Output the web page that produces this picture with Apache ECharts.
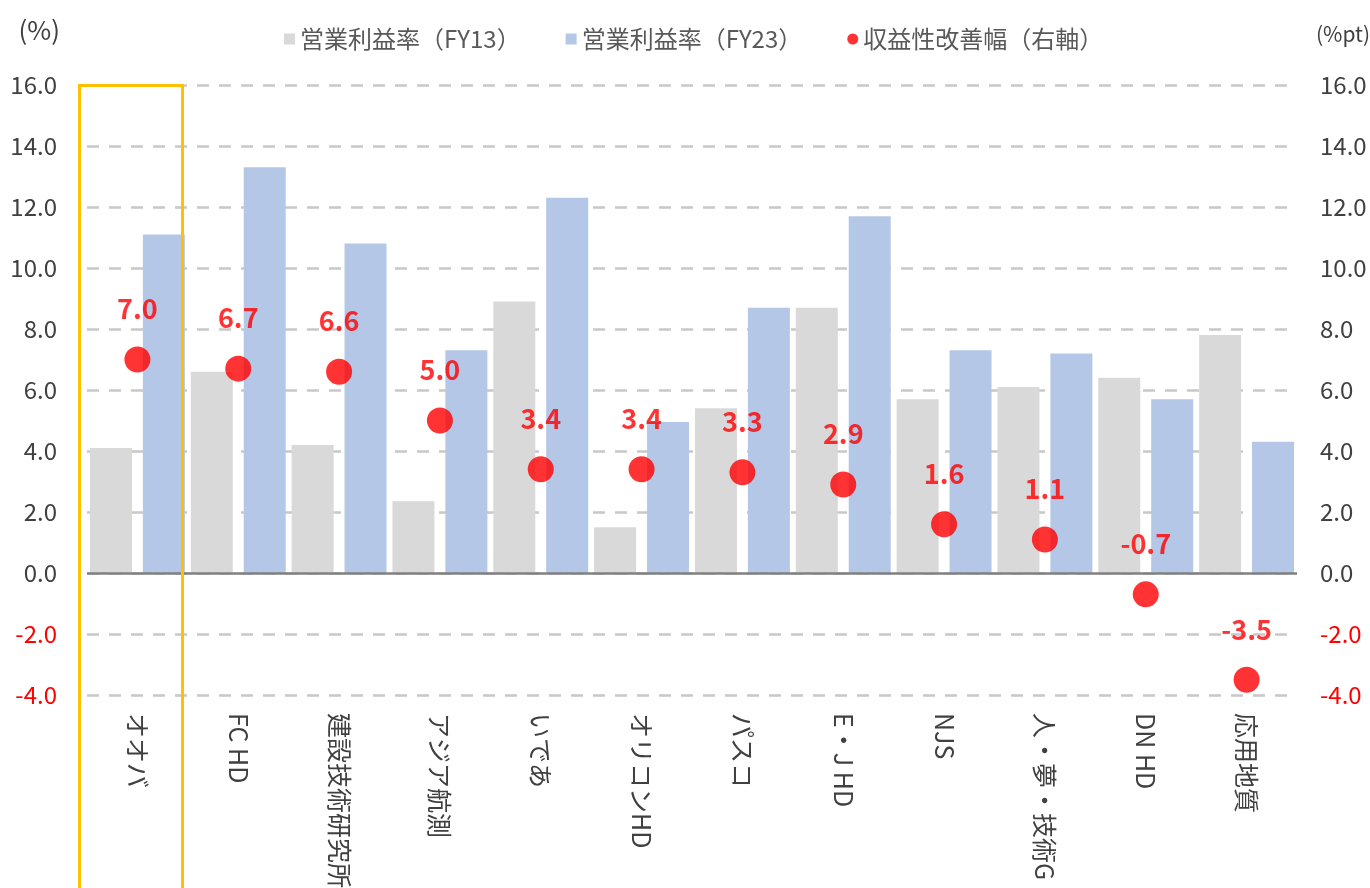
<!DOCTYPE html>
<html>
<head>
<meta charset="utf-8">
<script src="https://cdn.jsdelivr.net/npm/echarts@6/dist/echarts.min.js"></script>
<style>
  html, body { margin: 0; padding: 0; background: #fff; }
  #main { width: 1370px; height: 888px; }
</style>
</head>
<body>
<div id="main"></div>
<script>
// 企業名
var categories = ['オオバ', 'FC HD', '建設技術研究所', 'アジア航測', 'いであ', 'オリコンHD', 'パスコ', 'E・J HD', 'NJS', '人・夢・技術G', 'DN HD', '応用地質'];
// 営業利益率 FY13 / FY23 (%)
var fy13 = [4.1, 6.6, 4.2, 2.35, 8.9, 1.5, 5.4, 8.7, 5.7, 6.1, 6.4, 7.8];
var fy23 = [11.1, 13.3, 10.8, 7.3, 12.3, 4.95, 8.7, 11.7, 7.3, 7.2, 5.7, 4.3];
// 収益性改善幅 (%pt)
var improve = [7.0, 6.7, 6.6, 5.0, 3.4, 3.4, 3.3, 2.9, 1.6, 1.1, -0.7, -3.5];

var font = '"Noto Sans CJK JP", "Noto Sans", sans-serif';
var chart = echarts.init(document.getElementById('main'));

var tickLabel = {
    fontSize: 24,
    fontFamily: font,
    formatter: function (v) { return v.toFixed(1); },
    color: function (v) { return v < 0 ? '#ff0000' : '#404040'; }
};

var option = {
    backgroundColor: '#fff',
    animation: false,
    textStyle: { fontFamily: font },
    grid: { left: 87, right: 73, top: 85, bottom: 193, containLabel: false, outerBoundsMode: 'none' },
    legend: {
        top: 22,
        left: 279,
        itemGap: 45,
        itemWidth: 11,
        itemHeight: 11,
        textStyle: { fontSize: 24, color: '#595959', fontFamily: font },
        data: [
            { name: '営業利益率（FY13）', icon: 'rect' },
            { name: '営業利益率（FY23）', icon: 'rect' },
            { name: '収益性改善幅（右軸）', icon: 'circle' }
        ]
    },
    xAxis: {
        type: 'category',
        data: categories,
        axisLine: { show: false },
        axisTick: { show: false },
        axisLabel: {
            rotate: -90,
            margin: 18,
            interval: 0,
            fontSize: 25,
            color: '#404040',
            fontFamily: font
        }
    },
    yAxis: [{
        type: 'value',
        min: -4, max: 16, interval: 2,
        name: '(%)',
        nameGap: 42,
        nameTextStyle: { fontSize: 26, color: '#404040', align: 'right', padding: [0, 27, 0, 0] },
        axisLine: { show: false },
        axisTick: { show: false },
        axisLabel: Object.assign({ margin: 30 }, tickLabel),
        splitLine: { lineStyle: { color: '#c8c8c8', width: 2.5, type: [12, 10] } }
    }, {
        type: 'value',
        min: -4, max: 16, interval: 2,
        name: '(%pt)',
        nameGap: 40,
        nameTextStyle: { fontSize: 21, color: '#404040', align: 'left', padding: [0, 0, 0, 19] },
        axisLine: { show: false },
        axisTick: { show: false },
        axisLabel: Object.assign({ margin: 23 }, tickLabel),
        splitLine: { show: false }
    }],
    series: [{
        name: '営業利益率（FY13）',
        type: 'bar',
        data: fy13,
        barWidth: 42,
        barGap: '26%',
        itemStyle: { color: '#d9d9d9' },
        markLine: {
            silent: true,
            symbol: 'none',
            label: { show: false },
            lineStyle: { color: '#808080', width: 2.5, type: 'solid' },
            data: [{ yAxis: 0 }]
        }
    }, {
        name: '営業利益率（FY23）',
        type: 'bar',
        data: fy23,
        barWidth: 42,
        itemStyle: { color: '#b4c7e7' }
    }, {
        name: '収益性改善幅（右軸）',
        type: 'scatter',
        yAxisIndex: 1,
        data: improve,
        symbolSize: 26,
        itemStyle: { color: '#ff0000' },
        z: 5,
        label: {
            show: true,
            position: 'top',
            distance: 24,
            fontSize: 27,
            fontWeight: 'bold',
            color: '#ff0000',
            fontFamily: font,
            formatter: function (p) { return p.value.toFixed(1); }
        }
    }],
    graphic: [{
        type: 'rect',
        z: 100,
        shape: { x: 79.5, y: 85.5, width: 103, height: 820 },
        style: { fill: 'none', stroke: '#ffc000', lineWidth: 3 }
    }]
};
chart.setOption(option);
</script>
</body>
</html>
